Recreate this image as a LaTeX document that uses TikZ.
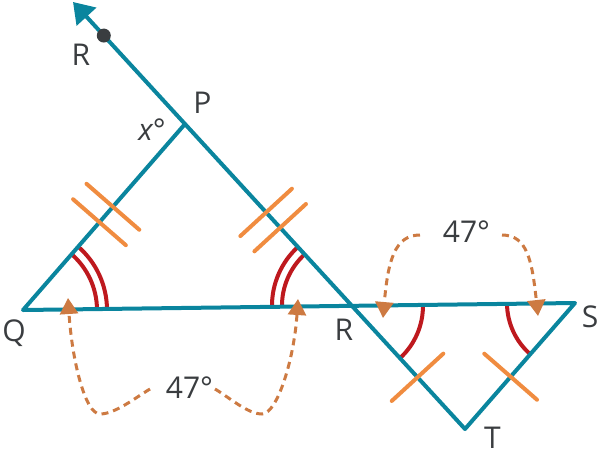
\documentclass[tikz,border=0pt]{standalone}
\usepackage{fontspec}
\setmainfont{Open Sans}
\usetikzlibrary{arrows.meta,calc,angles}
\definecolor{tealc}{HTML}{0A859E}
\definecolor{tickc}{HTML}{F08C40}
\definecolor{arcc}{HTML}{BE191E}
\definecolor{dashc}{HTML}{CD7A42}
\definecolor{txtc}{HTML}{3A3D40}
\tikzset{
  mainline/.style={draw=tealc, line width=4pt, line join=round},
  tickmark/.style={draw=tickc, line width=4pt, line cap=round},
  arcmark/.style={draw=arcc, line width=4pt},
  dasharrow/.style={draw=dashc, line width=3pt, dash pattern=on 7pt off 5pt,
    -{Triangle[length=16pt,width=18pt,fill=dashc]}},
  lbl/.style={text=txtc, font=\fontsize{30}{36}\selectfont, anchor=base, inner sep=0pt}
}
\begin{document}
\begin{tikzpicture}[x=1pt,y=1pt]
\useasboundingbox (0,0) rectangle (600,-459);
% vertices
\coordinate (Q) at (23,-310);
\coordinate (P) at (185,-124);
\coordinate (S) at (575,-303);
\coordinate (T) at (465,-429);
\coordinate (R) at (intersection of Q--S and P--T);
\coordinate (Atip) at ($(T)!1.40!(P)$);
\coordinate (Dot) at ($(T)!1.29!(P)$);

% angle arcs
\pic[arcmark, angle radius=84pt] {angle=S--Q--P};
\pic[arcmark, angle radius=74pt] {angle=S--Q--P};
\pic[arcmark, angle radius=80pt] {angle=P--R--Q};
\pic[arcmark, angle radius=70pt] {angle=P--R--Q};
\pic[arcmark, angle radius=71pt] {angle=T--R--S};
\pic[arcmark, angle radius=68pt] {angle=R--S--T};

% main lines
\draw[mainline, {Triangle[length=20pt,width=26pt]}-] (Atip) -- (T) -- (S) -- (Q) -- (P);
\fill[txtc] (Dot) circle (7pt);

% tick marks
\path ($(Q)!0.472!(P)$) coordinate (m1);
\path ($(Q)!0.555!(P)$) coordinate (m2);
\path ($(P)!0.486!(R)$) coordinate (m3);
\path ($(P)!0.570!(R)$) coordinate (m4);
\path ($(R)!0.580!(T)$) coordinate (m5);
\path ($(S)!0.585!(T)$) coordinate (m6);
\draw[tickmark] ($(m1)!35pt!90:(P)$) -- ($(m1)!35pt!-90:(P)$);
\draw[tickmark] ($(m2)!35pt!90:(P)$) -- ($(m2)!35pt!-90:(P)$);
\draw[tickmark] ($(m3)!35pt!90:(R)$) -- ($(m3)!35pt!-90:(R)$);
\draw[tickmark] ($(m4)!35pt!90:(R)$) -- ($(m4)!35pt!-90:(R)$);
\draw[tickmark] ($(m5)!35pt!90:(T)$) -- ($(m5)!35pt!-90:(T)$);
\draw[tickmark] ($(m6)!35pt!90:(T)$) -- ($(m6)!35pt!-90:(T)$);

% labels
\node[lbl] (lR1) at (81,-65) {R};
\node[lbl] (lP) at (202.5,-113) {P};
\node[lbl] (lx) at (152,-140) {\itshape x\upshape °};
\node[lbl] (lQ) at (14,-341) {Q};
\node[lbl] (lR2) at (344,-340) {R};
\node[lbl] (lS) at (590,-327) {S};
\node[lbl] (lT) at (492.5,-448) {T};
\node[lbl] (a1) at (466.5,-242) {47°};
\node[lbl] (a2) at (189.5,-398) {47°};

% dashed arrows
\coordinate (b1s) at (150,-389);
\coordinate (b1e) at (68,-298);
\coordinate (b2s) at (215,-389);
\coordinate (b2e) at (298,-299);
\coordinate (t1s) at (420,-235);
\coordinate (t1e) at (383,-318);
\coordinate (t2s) at (502,-235);
\coordinate (t2e) at (538,-316);
\draw[dasharrow] (b1s) .. controls (135,-398) and (115,-414) .. (100,-414)
  .. controls (85,-414) and (72,-360) .. (b1e);
\draw[dasharrow] (b2s) .. controls (230,-398) and (248,-414) .. (262,-414)
  .. controls (277,-414) and (294,-360) .. (b2e);
\draw[dasharrow] (t1s) .. controls (395,-235) and (388,-260) .. (t1e);
\draw[dasharrow] (t2s) .. controls (527,-235) and (532,-260) .. (t2e);
\end{tikzpicture}
\end{document}
